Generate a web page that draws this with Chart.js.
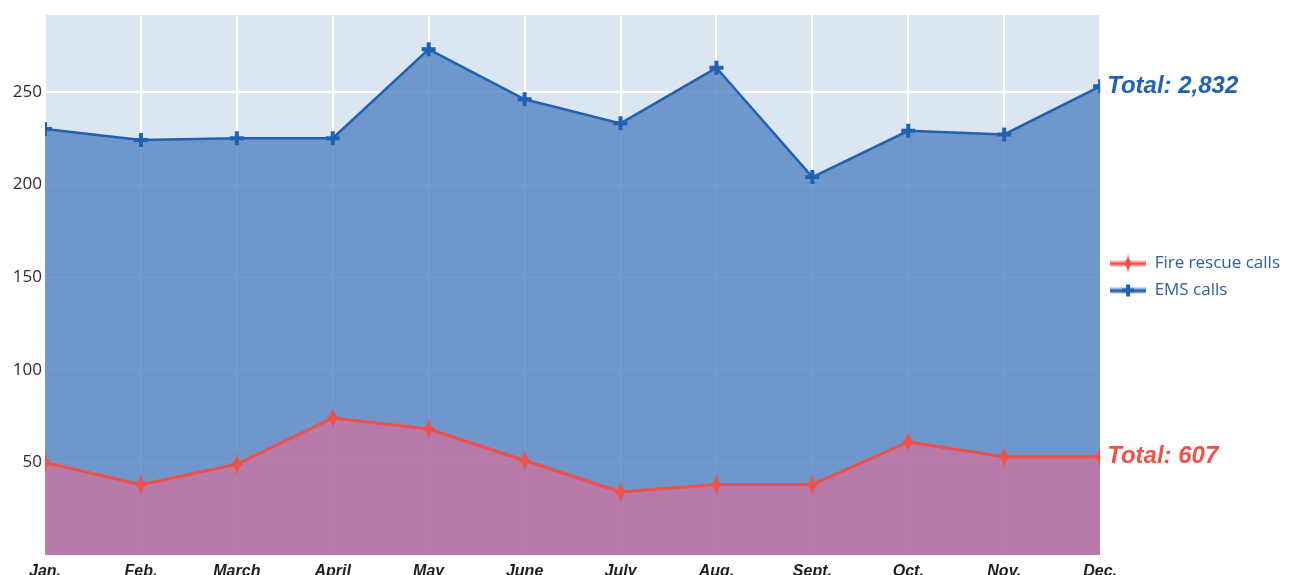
<!DOCTYPE html>
<html>
<head>
<meta charset="utf-8">
<script src="https://cdn.jsdelivr.net/npm/chart.js@4/dist/chart.umd.min.js"></script>
<style>
  html, body { margin: 0; padding: 0; background: #fff; }
  #wrap { width: 1302px; height: 575px; }
</style>
</head>
<body>
<div id="wrap"><canvas id="chartCalls" width="1302" height="575"></canvas></div>
<script>
// ─── Data ─────────────────────────────────────────────
const MONTHS = ['Jan.', 'Feb.', 'March', 'April', 'May', 'June', 'July', 'Aug.', 'Sept.', 'Oct.', 'Nov.', 'Dec.'];
const FIRE_CALLS = [50, 38, 49, 74, 68, 51, 34, 38, 38, 61, 53, 53];
const EMS_CALLS  = [230, 224, 225, 225, 273, 246, 233, 263, 204, 229, 227, 253];
const Y_TICKS = [50, 100, 150, 200, 250];
const Y_MAX = 291.5;

// ─── Colours ──────────────────────────────────────────
const C = {
  plotBg:   '#dce6f2',
  emsLine:  '#1f62b4',
  emsFill:  'rgba(93, 136, 197, 0.85)',
  fireLine: '#f0514a',
  fireFill: 'rgba(240, 101, 140, 0.56)',
  tick:     '#2e2e2e',
  legend:   '#2f5ea8',
};

// ─── Marker images ────────────────────────────────────
function diamond(ctx, cx, cy, w, h, color) {
  ctx.fillStyle = color;
  ctx.beginPath();
  ctx.moveTo(cx, cy - h / 2);
  ctx.quadraticCurveTo(cx + w * 0.12, cy - h * 0.12, cx + w / 2, cy);
  ctx.quadraticCurveTo(cx + w * 0.12, cy + h * 0.12, cx, cy + h / 2);
  ctx.quadraticCurveTo(cx - w * 0.12, cy + h * 0.12, cx - w / 2, cy);
  ctx.quadraticCurveTo(cx - w * 0.12, cy - h * 0.12, cx, cy - h / 2);
  ctx.fill();
}

function fireMarker() {
  const c = document.createElement('canvas');
  c.width = 12; c.height = 22;
  diamond(c.getContext('2d'), 6, 11, 12, 22, C.fireLine);
  return c;
}

function legendSwatch(kind) {
  const c = document.createElement('canvas');
  c.width = 36; c.height = 20;
  const ctx = c.getContext('2d');
  if (kind === 'fire') {
    ctx.fillStyle = 'rgba(240, 81, 74, 0.45)';
    ctx.fillRect(0, 7, 36, 6);
    ctx.fillStyle = C.fireLine;
    ctx.fillRect(0, 9, 36, 2.5);
    diamond(ctx, 18, 10, 9, 19, C.fireLine);
  } else {
    ctx.fillStyle = 'rgba(31, 98, 180, 0.45)';
    ctx.fillRect(0, 7, 36, 6);
    ctx.fillStyle = C.emsLine;
    ctx.fillRect(0, 9, 36, 2.5);
    ctx.fillRect(16, 4, 4, 12);
    ctx.fillRect(12, 8, 12, 4);
  }
  return c;
}

const FIRE_PT = fireMarker();
const SWATCH = { fire: legendSwatch('fire'), ems: legendSwatch('ems') };

// ─── Plugins ──────────────────────────────────────────
const plotBackground = {
  id: 'plotBackground',
  beforeDraw(chart) {
    const { ctx, chartArea: a } = chart;
    ctx.save();
    ctx.fillStyle = C.plotBg;
    ctx.fillRect(a.left, a.top, a.right - a.left, a.bottom - a.top);
    ctx.restore();
  }
};

// legend sits a little above the middle of the plot
const legendNudge = {
  id: 'legendNudge',
  afterLayout(chart) {
    if (!chart.legend) return;
    chart.legend.top -= 8;
    chart.legend.bottom -= 8;
  }
};

const totalLabels = {
  id: 'totalLabels',
  afterDraw(chart) {
    const { ctx, chartArea: a } = chart;
    ctx.save();
    ctx.font = "italic bold 24px 'Liberation Sans', Arial, sans-serif";
    ctx.textAlign = 'left';
    ctx.textBaseline = 'middle';
    chart.data.datasets.forEach((ds, i) => {
      const meta = chart.getDatasetMeta(i);
      const last = meta.data[meta.data.length - 1];
      const sum = ds.data.reduce((s, v) => s + v, 0);
      ctx.fillStyle = ds.borderColor;
      ctx.fillText('Total: ' + sum.toLocaleString('en-US'), a.right + 7, last.y);
    });
    ctx.restore();
  }
};

// ─── Chart ────────────────────────────────────────────
new Chart(document.getElementById('chartCalls'), {
  type: 'line',
  data: {
    labels: MONTHS,
    datasets: [
      {
        label: 'Fire rescue calls', data: FIRE_CALLS,
        borderColor: C.fireLine, backgroundColor: C.fireFill, borderWidth: 3,
        fill: 'origin', tension: 0, clip: 0,
        pointStyle: FIRE_PT, pointRadius: 8, pointBackgroundColor: C.fireLine,
      },
      {
        label: 'EMS calls', data: EMS_CALLS,
        borderColor: C.emsLine, backgroundColor: C.emsFill, borderWidth: 2.5,
        fill: 'origin', tension: 0, clip: 0,
        pointStyle: 'cross', pointRadius: 7, pointBorderWidth: 4, pointBorderColor: C.emsLine,
      },
    ]
  },
  options: {
    responsive: false,
    animation: false,
    layout: { padding: { top: 15, right: 12, bottom: 0, left: 0 } },
    plugins: {
      tooltip: { enabled: false },
      legend: {
        position: 'right',
        align: 'center',
        fullSize: false,
        labels: {
          usePointStyle: true,
          pointStyleWidth: 36,
          padding: 10,
          color: C.legend,
          font: { family: "'Open Sans', sans-serif", size: 17 },
          generateLabels: chart => chart.data.datasets.map((ds, i) => ({
            text: ds.label,
            pointStyle: i === 0 ? SWATCH.fire : SWATCH.ems,
            fontColor: C.legend,
            datasetIndex: i,
            lineWidth: 0,
          })),
        }
      }
    },
    scales: {
      x: {
        offset: false,
        grid: { color: '#ffffff', lineWidth: 2, drawTicks: false },
        border: { display: false },
        ticks: {
          color: '#1e1e1e', padding: 7, maxRotation: 0, autoSkip: false,
          font: { family: "'Liberation Sans', Arial, sans-serif", size: 16, style: 'italic', weight: 'bold' },
        },
        afterFit: s => { s.height = 20; },
      },
      y: {
        min: 0, max: Y_MAX,
        grid: { color: '#ffffff', lineWidth: 2, drawTicks: false },
        border: { display: false },
        ticks: {
          color: C.tick, padding: 3,
          font: { family: "'Open Sans', sans-serif", size: 17 },
        },
        afterBuildTicks: s => { s.ticks = Y_TICKS.map(v => ({ value: v })); },
        afterFit: s => { s.width = 45; },
      }
    }
  },
  plugins: [plotBackground, legendNudge, totalLabels]
});
</script>
</body>
</html>
